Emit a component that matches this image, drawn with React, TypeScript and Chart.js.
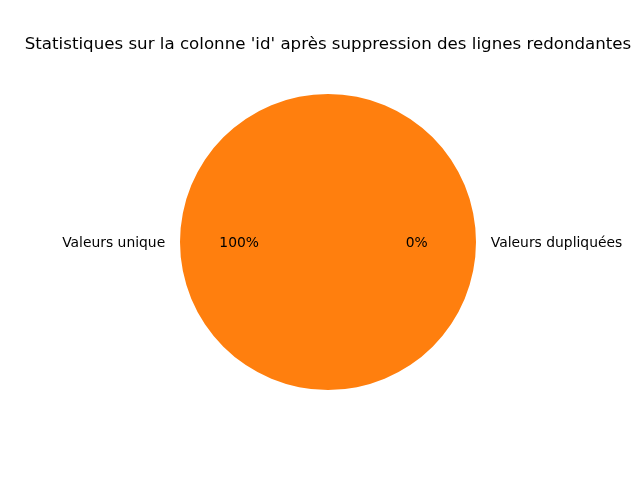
import React, { useEffect, useRef } from "react";
import { Chart, registerables } from "chart.js";

Chart.register(...registerables);

const titleText = "Statistiques sur la colonne 'id' après suppression des lignes redondantes";
const sliceLabels = ["Valeurs dupliquées", "Valeurs unique"];
const sliceValues = [0, 100];
const sliceColors = ["#1f77b4", "#ff7f0e"];

const FONT = "DejaVu Sans, sans-serif";

const piePlugin = {
  id: "mplPie",
  afterDraw(chart: any) {
    const ctx = chart.ctx;
    const meta = chart.getDatasetMeta(0);
    const total = sliceValues.reduce((a, b) => a + b, 0);
    ctx.save();
    ctx.fillStyle = "#000";
    ctx.font = `16.67px ${FONT}`;
    ctx.textAlign = "center";
    ctx.textBaseline = "alphabetic";
    ctx.fillText(titleText, 328, 49);
    ctx.font = `13.89px ${FONT}`;
    meta.data.forEach((arc: any, i: number) => {
      const { x, y, startAngle, endAngle, outerRadius } = arc.getProps(
        ["x", "y", "startAngle", "endAngle", "outerRadius"],
        true
      );
      const mid = (startAngle + endAngle) / 2;
      const c = Math.cos(mid);
      const s = Math.sin(mid);
      const lx = x + outerRadius * 1.1 * c;
      const ly = y + outerRadius * 1.1 * s + 1;
      ctx.textBaseline = "middle";
      ctx.textAlign = c < -1e-6 ? "right" : "left";
      ctx.fillText(sliceLabels[i], lx, ly);
      const px = x + outerRadius * 0.6 * c;
      const py = y + outerRadius * 0.6 * s + 1;
      ctx.textAlign = "center";
      const pct = ((sliceValues[i] / total) * 100).toFixed(0) + "%";
      ctx.fillText(pct, px, py);
    });
    ctx.restore();
  },
};

export default function App() {
  const ref = useRef<HTMLCanvasElement | null>(null);
  useEffect(() => {
    if (!ref.current) return;
    const chart = new Chart(ref.current, {
      type: "pie",
      data: {
        labels: sliceLabels,
        datasets: [
          {
            data: sliceValues,
            backgroundColor: sliceColors,
            borderWidth: 0,
          },
        ],
      },
      options: {
        animation: false,
        responsive: false,
        rotation: 90,
        layout: { padding: { left: 180, right: 164, top: 94, bottom: 90 } },
        plugins: {
          legend: { display: false },
          title: { display: false },
          tooltip: { enabled: false },
        },
      },
      plugins: [piePlugin],
    });
    return () => chart.destroy();
  }, []);
  return (
    <div style={{ position: "fixed", left: 0, top: 0, width: 640, height: 480, background: "#fff" }}>
      <canvas ref={ref} width={640} height={480} style={{ width: 640, height: 480 }} />
    </div>
  );
}
